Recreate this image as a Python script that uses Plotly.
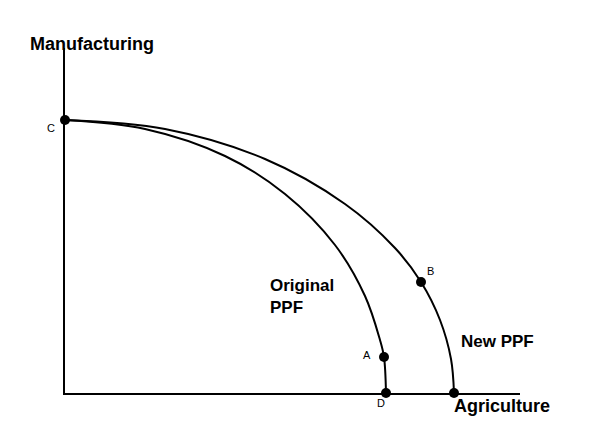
import plotly.graph_objects as go

# points (agriculture, manufacturing)
orig_x = [0, 80, 160, 220, 270, 300, 315, 319, 321]
orig_y = [273, 264, 237, 199, 148, 97, 53, 36, 0]
new_x = [0, 100, 200, 280, 330, 356, 375, 386, 389]
new_y = [273, 264, 234, 189, 145, 111, 73, 34, 0]

pt_x = [0, 319, 321, 356, 389]
pt_y = [273, 36, 0, 111, 0]

XMAX, YMAX = 455, 345

fig = go.Figure()
line = dict(color="black", width=2, shape="spline")
fig.add_trace(go.Scatter(x=orig_x, y=orig_y, mode="lines", line=line, cliponaxis=False))
fig.add_trace(go.Scatter(x=new_x, y=new_y, mode="lines", line=line, cliponaxis=False))
fig.add_trace(go.Scatter(x=pt_x, y=pt_y, mode="markers", cliponaxis=False,
                         marker=dict(color="black", size=10)))

small = dict(family="Arial", size=11, color="black")
big = dict(family="Arial", size=18, color="black", weight="bold")
mid = dict(family="Arial", size=17, color="black", weight="bold")
ann = [
    dict(x=-20, y=273, text="C", font=small),
    dict(x=302, y=30, text="A", font=small),
    dict(x=322, y=-18, text="D", font=small),
    dict(x=371, y=122, text="B", font=small),
    dict(x=203, y=74, text="Original<br>PPF", font=mid, xanchor="left", align="left"),
    dict(x=394, y=40, text="New PPF", font=mid, xanchor="left"),
    dict(x=-37, y=361, text="Manufacturing", font=big, xanchor="left"),
    dict(x=387, y=-25, text="Agriculture", font=big, xanchor="left"),
]
for a in ann:
    a.update(x=a["x"] / XMAX, y=a["y"] / YMAX, xref="paper", yref="paper", showarrow=False)

fig.update_layout(
    width=597, height=440, showlegend=False,
    margin=dict(l=57, r=85, t=40, b=55),
    plot_bgcolor="white", paper_bgcolor="white",
    annotations=ann,
)
fig.update_xaxes(range=[0, XMAX], showline=True, linecolor="black", linewidth=2,
                 showgrid=False, zeroline=False, showticklabels=False, ticks="")
fig.update_yaxes(range=[0, YMAX], showline=True, linecolor="black", linewidth=2,
                 showgrid=False, zeroline=False, showticklabels=False, ticks="")

fig.write_html("out.html")
